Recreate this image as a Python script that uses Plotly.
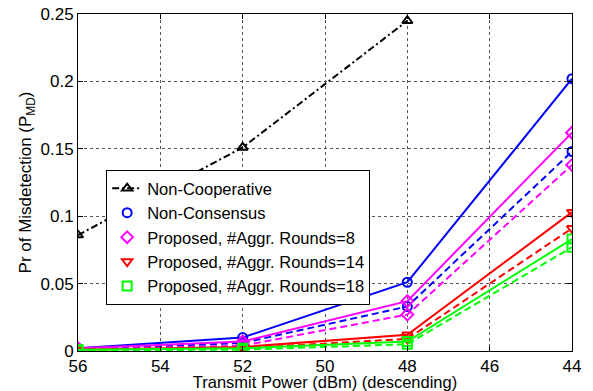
import plotly.graph_objects as go

x = [56, 52, 48, 44]
x_nc = [56, 52, 48]
non_coop = [0.086, 0.151, 0.245]
non_cons = [0.002, 0.010, 0.051, 0.202]
non_cons_d = [0.001, 0.006, 0.033, 0.148]
r8 = [0.002, 0.007, 0.037, 0.162]
r8_d = [0.001, 0.004, 0.027, 0.138]
r14 = [0.001, 0.003, 0.012, 0.103]
r14_d = [0.001, 0.002, 0.009, 0.091]
r18 = [0.001, 0.002, 0.007, 0.083]
r18_d = [0.0005, 0.001, 0.005, 0.077]

DASH = "7px,4px"
DASHDOT = "7px,3px,2px,3px"

fig = go.Figure()

def add(y, color, sym, dash, xs=x):
    fig.add_trace(go.Scatter(x=xs, y=y, mode="lines+markers", showlegend=False,
                             line=dict(color=color, width=2, dash=dash),
                             marker=dict(symbol=sym, size=9, color=color, line=dict(width=2, color=color))))

add(non_coop, "black", "triangle-up-open", DASHDOT, x_nc)
add(non_cons, "#0000ff", "circle-open", "solid")
add(non_cons_d, "#0000ff", "circle-open", DASH)
add(r8, "#ff00ff", "diamond-open", "solid")
add(r8_d, "#ff00ff", "diamond-open", DASH)
add(r14, "#ff0000", "triangle-down-open", "solid")
add(r14_d, "#ff0000", "triangle-down-open", DASH)
add(r18, "#00ff00", "square-open", "solid")
add(r18_d, "#00ff00", "square-open", DASH)

legend_items = [
    ("Non-Cooperative", "black", "triangle-up-open", "lines+markers"),
    ("Non-Consensus", "#0000ff", "circle-open", "markers"),
    ("Proposed, #Aggr. Rounds=8", "#ff00ff", "diamond-open", "markers"),
    ("Proposed, #Aggr. Rounds=14", "#ff0000", "triangle-down-open", "markers"),
    ("Proposed, #Aggr. Rounds=18", "#00ff00", "square-open", "markers"),
]
for name, c, s, m in legend_items:
    fig.add_trace(go.Scatter(x=[None], y=[None], mode=m, name=name,
                             line=dict(color=c, width=2, dash=DASHDOT),
                             marker=dict(symbol=s, size=9, color=c, line=dict(width=2, color=c))))

axis_common = dict(showline=True, linecolor="black", linewidth=1, mirror="ticks",
                   ticks="inside", ticklen=5, tickcolor="black",
                   showgrid=True, gridcolor="#555555", griddash="dot", gridwidth=1,
                   zeroline=False, automargin=False,
                   tickfont=dict(size=17, color="black"))

fig.update_layout(
    width=593, height=391,
    margin=dict(l=78, r=21, t=14, b=40, autoexpand=False),
    paper_bgcolor="white", plot_bgcolor="white",
    font=dict(family="Liberation Sans, Arial, sans-serif", size=15, color="black"),
    xaxis=dict(range=[56, 44], tickvals=[56, 54, 52, 50, 48, 46, 44],
               title=dict(text="Transmit Power (dBm) (descending)", standoff=3, font=dict(size=16.5)),
               **axis_common),
    yaxis=dict(range=[0, 0.25001], tickvals=[0, 0.05, 0.1, 0.15, 0.2, 0.25],
               ticktext=["0", "0.05", "0.1", "0.15", "0.2", "0.25"],
               title=dict(text="Pr of Misdetection (P<sub>MD</sub>)", standoff=4, font=dict(size=17)),
               **axis_common),
    legend=dict(x=0.057, y=0.537, xanchor="left", yanchor="top",
                bgcolor="white", bordercolor="black", borderwidth=1,
                font=dict(size=16.5), tracegroupgap=0, itemwidth=30),
    showlegend=True,
)

fig.write_html("out.html", config={"displayModeBar": False},
               post_script="document.body.style.margin='0';document.body.style.overflow='hidden';")
